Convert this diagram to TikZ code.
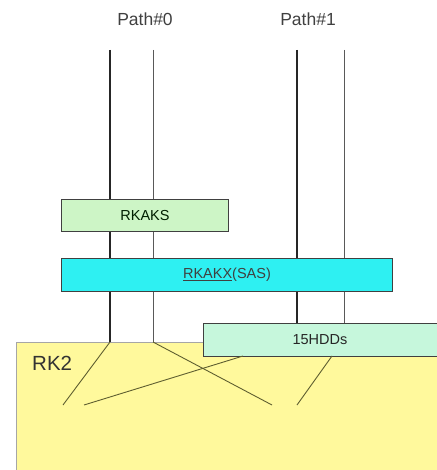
\documentclass[tikz,border=0pt]{standalone}
\usepackage{fontspec}
\setmainfont{Liberation Sans}
\definecolor{bggreen}{HTML}{CDF5C6}
\definecolor{bgcyan}{HTML}{2EF0F2}
\definecolor{bgmint}{HTML}{C6F7DC}
\definecolor{bgyellow}{HTML}{FFF99C}
\definecolor{olive}{HTML}{5E5E30}
\tikzset{
  boxstyle/.style={draw=black!75, line width=1pt, rectangle, anchor=north west, inner sep=0pt},
  boxtext/.style={font=\fontsize{14.5}{16}\selectfont, inner sep=0pt},
  pathline/.style={draw=black!85, line width=1.1pt},
  pathlinelight/.style={draw=black!65, line width=0.9pt},
  innerline/.style={draw=olive, line width=0.9pt},
  pathlabel/.style={font=\fontsize{17.5}{19}\selectfont, text=black!75, inner sep=0pt}
}
\begin{document}
\begin{tikzpicture}[x=1pt,y=-1pt]
\useasboundingbox[fill=white] (0,0) rectangle (436,470);
% labels
\node[pathlabel] (lab0) at (145,19) {Path\#0};
\node[pathlabel] (lab1) at (308,19) {Path\#1};
% top ends of path lines
\coordinate (p0a) at (110,50);
\coordinate (p0b) at (153,50);
\coordinate (p1a) at (297,50);
\coordinate (p1b) at (344,50);
% yellow enclosure
\node[boxstyle, draw=black!35, fill=bgyellow, minimum width=440pt, minimum height=140pt] (rk2) at (16,342) {};
\node[anchor=north west, inner sep=0pt, font=\fontsize{20.5}{22}\selectfont, text=black!80] (rk2label) at (32,356) {RK2};
% vertical lines
\draw[pathline] (p0a) -- (p0a |- rk2.north);
\draw[pathlinelight] (p0b) -- (p0b |- rk2.north);
\draw[pathline] (p1a) -- (p1a |- 0,323);
\draw[pathlinelight] (p1b) -- (p1b |- 0,323);
% boxes
\node[boxstyle, fill=bggreen, minimum width=167pt, minimum height=32pt] (rkaks) at (61,199) {};
\node[boxtext, text=black!60!green!30!black] (rkakstext) at (rkaks.center) {RKAKS};
\node[boxstyle, fill=bgcyan, minimum width=331pt, minimum height=33pt] (rkakx) at (61,258) {};
\node[boxtext, text=black!75] (rkakxtext) at (rkakx.center) {\underline{RKAKX}(SAS)};
\node[boxstyle, fill=bgmint, minimum width=250pt, minimum height=33pt] (hdd) at (203,323) {};
\node[boxtext, text=black!85] (hddtext) at (320,340) {15HDDs};
% internal links
\coordinate (d0) at (63,405);
\coordinate (d1) at (84,405);
\coordinate (d2) at (272,405);
\coordinate (d3) at (297,405);
\coordinate (h0) at (243,356);
\coordinate (h1) at (332,356);
\draw[innerline] (p0a |- rk2.north) -- (d0);
\draw[innerline] (p0b |- rk2.north) -- (d2);
\draw[innerline] (h0) -- (d1);
\draw[innerline] (h1) -- (d3);
\end{tikzpicture}
\end{document}
